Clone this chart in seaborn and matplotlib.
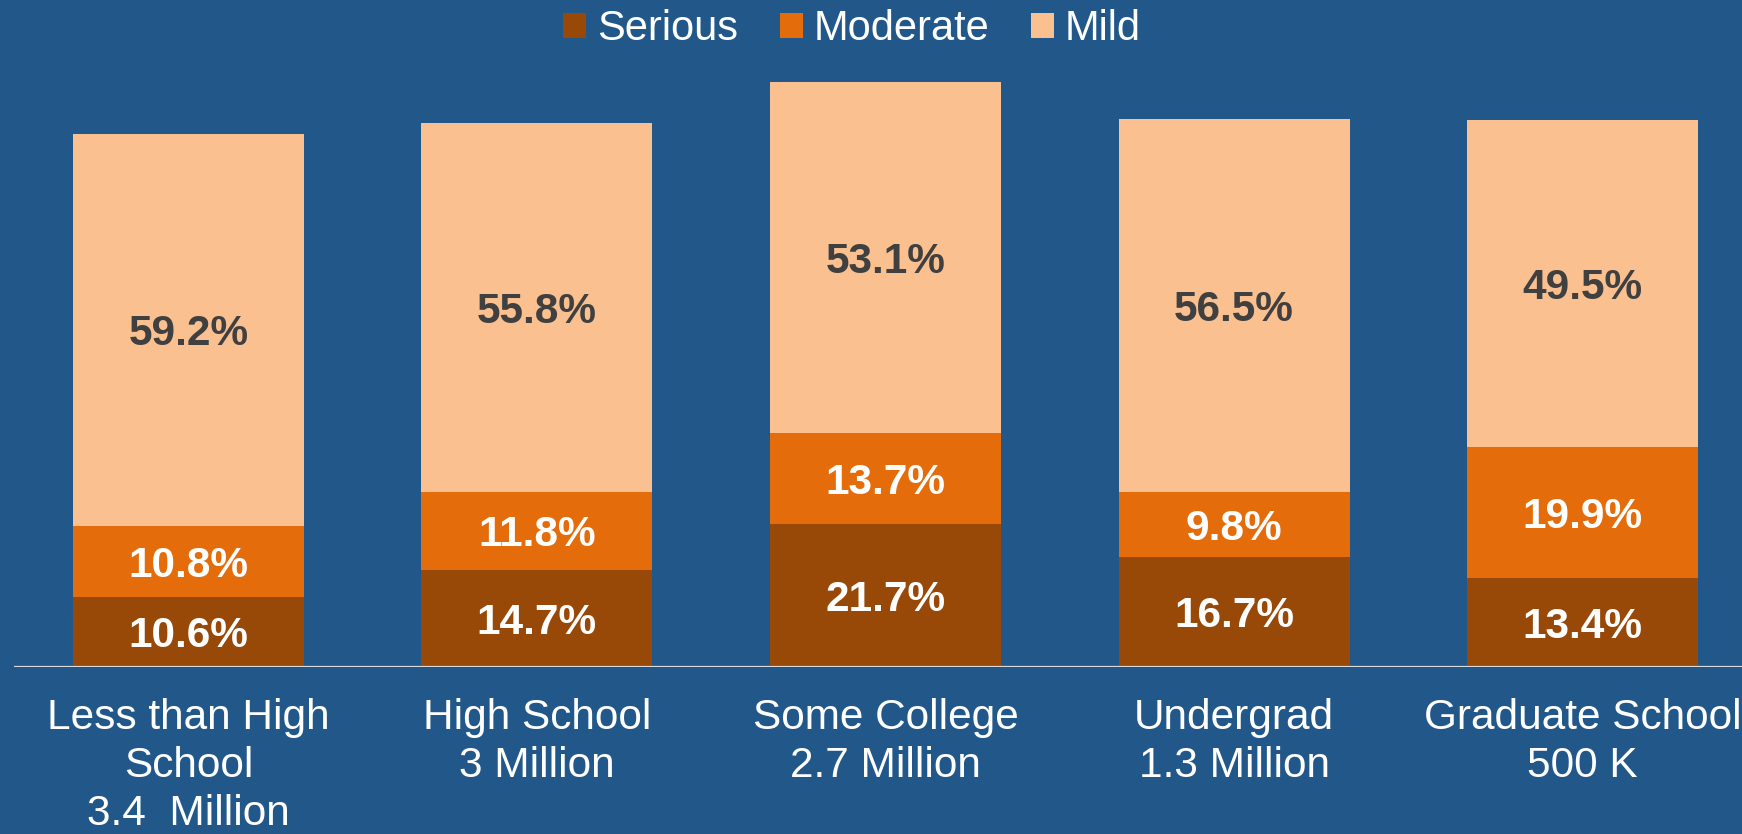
import matplotlib
matplotlib.use("Agg")
import matplotlib.pyplot as plt
from matplotlib.patches import Patch
import seaborn as sns
import numpy as np
import pandas as pd

categories = ["Less than High\nSchool\n3.4  Million", "High School\n3 Million",
              "Some College\n2.7 Million", "Undergrad\n1.3 Million",
              "Graduate School\n500 K"]
serious = [10.6, 14.7, 21.7, 16.7, 13.4]
moderate = [10.8, 11.8, 13.7, 9.8, 19.9]
mild = [59.2, 55.8, 53.1, 56.5, 49.5]
series_names = ["Serious", "Moderate", "Mild"]

BG = "#22578A"
C_SER = "#984807"
C_MOD = "#E46C0A"
C_MILD = "#FAC090"

sns.set_style("white")
plt.rcParams["font.family"] = ["Liberation Sans", "DejaVu Sans"]

fig = plt.figure(figsize=(17.42, 8.34), dpi=100, facecolor=BG)
ax = fig.add_axes([14 / 1742, (834 - 667) / 834, 5 * 348.6 / 1742, 607 / 834])
ax.set_facecolor(BG)

df = pd.DataFrame({"cat": categories, "serious": serious,
                   "moderate": moderate, "mild": mild})
df["lvl2"] = df["serious"] + df["moderate"]
df["lvl3"] = df["lvl2"] + df["mild"]

W = 0.663
sns.barplot(data=df, x="cat", y="lvl3", color=C_MILD, saturation=1, width=W,
            linewidth=0, ax=ax)
sns.barplot(data=df, x="cat", y="lvl2", color=C_MOD, saturation=1, width=W,
            linewidth=0, ax=ax)
sns.barplot(data=df, x="cat", y="serious", color=C_SER, saturation=1, width=W,
            linewidth=0, ax=ax)

for i in range(len(categories)):
    s, m, l = serious[i], moderate[i], mild[i]
    kw = dict(ha="center", va="center_baseline", fontsize=30.5, fontweight="bold")
    ax.text(i, s / 2, f"{s:.1f}%", color="white", **kw)
    ax.text(i, s + m / 2, f"{m:.1f}%", color="white", **kw)
    ax.text(i, s + m + l / 2, f"{l:.1f}%", color="#404040", **kw)

ax.set_xlim(-0.5, 4.5)
ax.set_ylim(0, 607 / 6.608)
for sp in ax.spines.values():
    sp.set_visible(False)
ax.axhline(0, color="#D9D9D9", lw=1.6, zorder=5)
ax.set_yticks([])
ax.set_xlabel("")
ax.set_ylabel("")
ax.tick_params(axis="x", length=0, pad=22, labelsize=30.5, labelcolor="white")
for t in ax.get_xticklabels():
    t.set_linespacing(1.27)

handles = [Patch(facecolor=c, edgecolor="none", label=n)
           for c, n in zip([C_SER, C_MOD, C_MILD], series_names)]
leg = fig.legend(handles=handles, loc="center", bbox_to_anchor=(0.489, 1 - 29 / 834),
                 ncol=3, frameon=False, fontsize=30, handlelength=0.55,
                 handleheight=0.55, handletextpad=0.26, columnspacing=1.0,
                 borderaxespad=0, borderpad=0)
for t in leg.get_texts():
    t.set_color("white")

fig.savefig("out.png", dpi=100, facecolor=BG)
